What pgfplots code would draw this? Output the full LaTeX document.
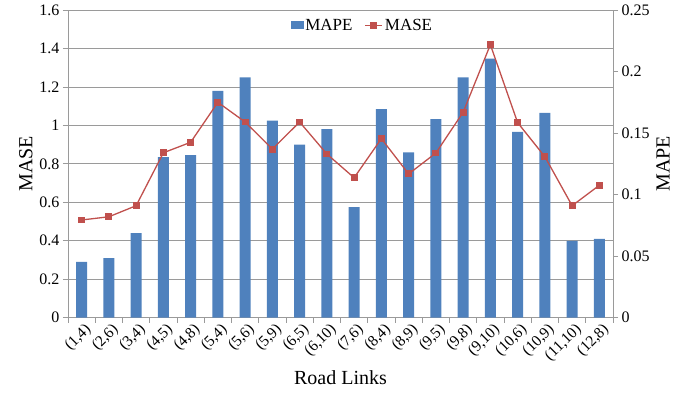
\documentclass[border=0pt]{standalone}
\usepackage{fontspec}
\setmainfont{Liberation Serif}
\usepackage{pgfplots}
\pgfplotsset{compat=1.18}
\definecolor{barblue}{HTML}{4F81BD}
\definecolor{linered}{HTML}{C0504D}
\definecolor{gridgray}{HTML}{9A9A9A}
\begin{document}
\begin{tikzpicture}
\path[use as bounding box] (-68pt,-76.3pt) rectangle (622pt,317.7pt);
\pgfplotsset{
  common/.style={
    at={(0,0)}, anchor=south west,
    width=545pt, height=307.7pt, scale only axis,
    xmin=-0.5, xmax=19.5,
    /pgf/number format/assume math mode=true,
    tick align=outside,
    major tick length=5pt,
    minor tick length=5pt,
    tick style={gridgray, line width=0.8pt},
    axis line style={gridgray, line width=0.8pt},
    tick label style={font=\fontsize{16}{18}\selectfont, black},
    label style={font=\fontsize{20}{22}\selectfont, black},
  }
}
\begin{axis}[common,
  ymin=0, ymax=1.6,
  ytick={0,0.2,0.4,0.6,0.8,1,1.2,1.4,1.6},
  yticklabels={0,0.2,0.4,0.6,0.8,1,1.2,1.4,1.6},
  ytick pos=left,
  ymajorgrids, grid style={gridgray, line width=0.8pt},
  xtick={0,...,19},
  xticklabels={(1,4),(2,6),(3,4),(4,5),(4,8),(5,4),(5,6),(5,9),(6,5),(6,10),(7,6),(8,4),(8,9),(9,5),(9,8),(9,10),(10,6),(10,9),(11,10),(12,8)},
  major x tick style={draw=none},
  minor xtick={-0.5,0.5,...,19.5},
  xtick pos=bottom,
  xticklabel style={rotate=45, anchor=north east, inner sep=1pt, xshift=3pt, font=\fontsize{15.5}{17}\selectfont},
  ylabel={MASE},
  xlabel={Road Links},
  xlabel style={yshift=-2pt},
]
\addplot[ybar, bar width=11pt, fill=barblue, draw=none] coordinates {
(0,0.29) (1,0.31) (2,0.44) (3,0.835) (4,0.845) (5,1.18) (6,1.25) (7,1.025) (8,0.90) (9,0.98)
(10,0.575) (11,1.084) (12,0.86) (13,1.033) (14,1.25) (15,1.347) (16,0.966) (17,1.065) (18,0.40) (19,0.41)
};
\end{axis}
\begin{axis}[common,
  ymin=0, ymax=0.25,
  axis y line*=right,
  axis x line=none,
  ytick={0,0.05,0.1,0.15,0.2,0.25},
  yticklabels={0,0.05,0.1,0.15,0.2,0.25},
  ylabel={MAPE},
  legend style={at={(0.5,0.985)}, anchor=north, xshift=22pt, draw=none, fill=none,
    legend columns=2, font=\fontsize{17}{19}\selectfont,
    /tikz/every even column/.append style={column sep=10pt}},
]
\addlegendimage{legend image code/.code={\fill[barblue] (0pt,-3.5pt) rectangle (12pt,3.5pt);}}
\addlegendentry{MAPE}
\addplot[linered, line width=1.3pt, mark=square*, mark size=2.8pt, mark options={fill=linered}] coordinates {
(0,0.0794) (1,0.082) (2,0.091) (3,0.134) (4,0.1425) (5,0.175) (6,0.159) (7,0.137) (8,0.159) (9,0.133)
(10,0.1137) (11,0.1455) (12,0.1168) (13,0.1338) (14,0.1669) (15,0.2218) (16,0.1585) (17,0.1308) (18,0.091) (19,0.1076)
};
\addlegendentry{MASE}
\end{axis}
\end{tikzpicture}
\end{document}
